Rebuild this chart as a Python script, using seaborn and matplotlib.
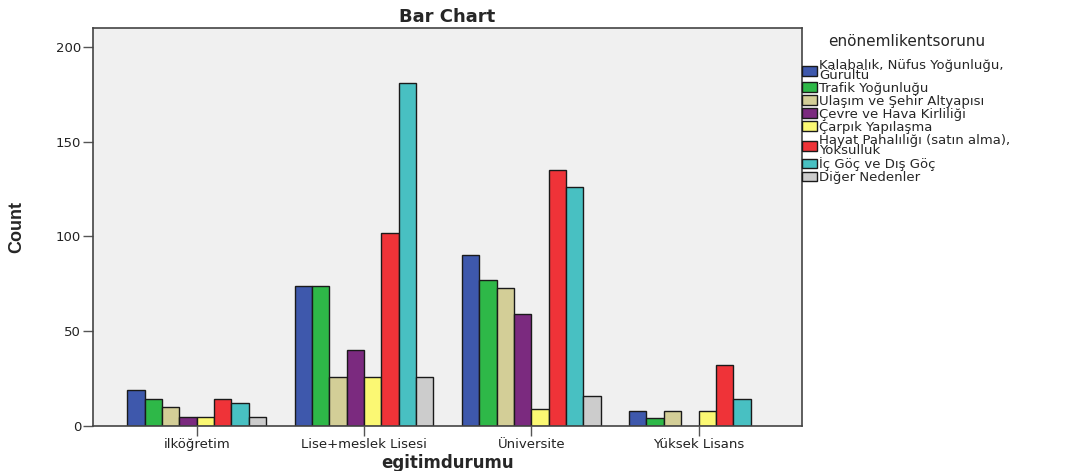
import pandas as pd
import numpy as np
import matplotlib
matplotlib.use('Agg')
import matplotlib.pyplot as plt
import seaborn as sns

# Données
egitim = ['ilköğretim', 'Lise+meslek Lisesi', 'Üniversite', 'Yüksek Lisans']
sorunlar = ['Kalabalık, Nüfus Yoğunluğu,\nGürültü', 'Trafik Yoğunluğu',
            'Ulaşım ve Şehir Altyapısı', 'Çevre ve Hava Kirliliği',
            'Çarpık Yapılaşma', 'Hayat Pahalılığı (satın alma),\nYoksulluk',
            'İç Göç ve Dış Göç', 'Diğer Nedenler']
ilkogretim = [19, 14, 10, 5, 5, 14, 12, 5]
lise = [74, 74, 26, 40, 26, 102, 181, 26]
universite = [90, 77, 73, 59, 9, 135, 126, 16]
yuksek = [8, 4, 8, 0, 8, 32, 14, 0]
renkler = ['#3E58AC', '#2EB848', '#D3CE97', '#7B2A7F',
           '#FBF873', '#EF3338', '#48C0C2', '#CCCCCC']

rows = []
for e, vals in zip(egitim, [ilkogretim, lise, universite, yuksek]):
    for s, v in zip(sorunlar, vals):
        rows.append({'egitimdurumu': e, 'enönemlikentsorunu': s, 'Count': v})
df = pd.DataFrame(rows)
df = df[df['Count'] > 0]

sns.set_style('white')
plt.rcParams['font.family'] = ['DejaVu Sans']

fig = plt.figure(figsize=(10.65, 4.71), dpi=100)
ax = fig.add_axes([0.0873, 0.0955, 0.666, 0.845])
ax.set_facecolor('#F0F0F0')

sns.barplot(data=df, x='egitimdurumu', y='Count', hue='enönemlikentsorunu',
            order=egitim, hue_order=sorunlar, palette=renkler, width=0.83,
            saturation=1, edgecolor='#1a1a1a', linewidth=1.0, ax=ax)

ax.set_xlim(-0.62, 3.62)
ax.set_ylim(0, 210)
ax.set_yticks([0, 50, 100, 150, 200])
ax.tick_params(axis='both', direction='out', length=7, width=1, color='#555555',
               labelsize=9.5, labelcolor='#222222', left=True, bottom=True, pad=1.5)
for sp in ax.spines.values():
    sp.set_visible(True)
    sp.set_color('#444444')
    sp.set_linewidth(1.2)

ax.set_title('Bar Chart', fontsize=13, fontweight='bold', pad=4)
ax.set_xlabel('egitimdurumu', fontsize=12, fontweight='bold', labelpad=2)
ax.set_ylabel('Count', fontsize=13, fontweight='bold',
              family=['Liberation Sans Narrow', 'Liberation Sans'], labelpad=22)

leg = ax.legend(title='enönemlikentsorunu', loc='upper left', bbox_to_anchor=(1.0, 0.985),
                frameon=False, fontsize=9.5, title_fontsize=11, borderaxespad=0,
                borderpad=0, handlelength=1.1, handleheight=0.75, handletextpad=0.2,
                labelspacing=0.0)
leg._legend_box.sep = 7
for t in leg.get_texts():
    t.set_linespacing(0.72)

fig.savefig('out.png', dpi=100, facecolor='white')
